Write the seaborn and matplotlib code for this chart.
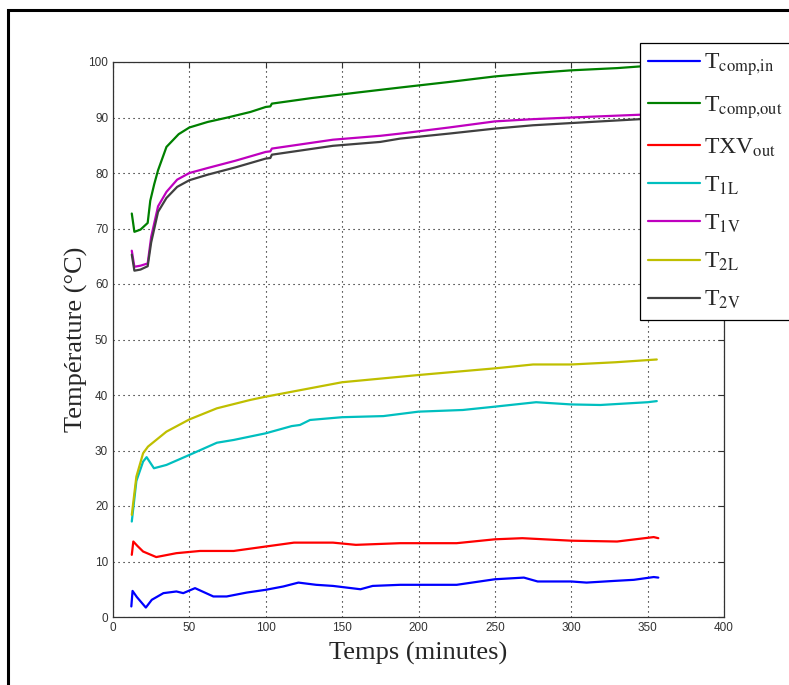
import pandas as pd
import matplotlib.pyplot as plt
import matplotlib.patches as mpatches
import seaborn as sns

# Values (time in minutes, temperature in °C)
t_comp_in_t = [12.0, 12.8, 15.6, 21.5, 25.4, 33, 41.5, 46, 53.7, 65.7, 74.4, 87.5, 100, 111.5,
               121.4, 133, 144, 162, 170, 188, 210, 225, 250, 269, 278, 300, 310, 328, 341, 354, 357]
t_comp_in_v = [1.9, 4.7, 3.6, 1.7, 3.1, 4.3, 4.6, 4.3, 5.2, 3.7, 3.7, 4.4, 4.9, 5.5,
               6.2, 5.8, 5.6, 5.0, 5.6, 5.8, 5.8, 5.8, 6.8, 7.1, 6.4, 6.4, 6.2, 6.5, 6.7, 7.2, 7.1]

t_comp_out_t = [12.3, 14, 18, 22.7, 24.4, 27, 29.5, 35, 43, 50, 62, 75, 90, 100, 103, 104,
                130, 160, 188, 220, 250, 275, 300, 330, 345, 357]
t_comp_out_v = [72.7, 69.4, 69.8, 71, 75, 78, 80.5, 84.7, 87, 88.2, 89.2, 90, 91, 91.9, 92.0, 92.5,
                93.5, 94.5, 95.4, 96.4, 97.4, 98.0, 98.5, 98.9, 99.2, 99.3]

txv_out_t = [12.3, 13.3, 16, 19.7, 28.3, 41.5, 57, 79, 100, 118.5, 144, 159, 188, 225, 250,
             268, 300, 330, 354, 357]
txv_out_v = [11.2, 13.6, 12.8, 11.8, 10.8, 11.5, 11.9, 11.9, 12.7, 13.4, 13.4, 13.0, 13.3, 13.3, 14.0,
             14.2, 13.75, 13.6, 14.4, 14.2]

t_1l_t = [12.3, 15.3, 19.7, 22, 26.8, 35, 50, 68, 79, 100, 117, 122.4, 129, 150, 177, 200,
          229, 250, 277, 300, 319, 350, 356]
t_1l_v = [17.2, 24.5, 28, 28.8, 26.8, 27.4, 29.2, 31.4, 31.9, 33.1, 34.4, 34.6, 35.5, 36.0, 36.2, 37.0,
          37.3, 37.9, 38.7, 38.3, 38.2, 38.7, 38.9]

t_1v_t = [12.3, 14, 18, 22.7, 25, 29.5, 35, 42, 50, 62, 80, 100, 103, 104, 144, 175, 188,
          220, 250, 275, 300, 345, 357]
t_1v_v = [66, 63.1, 63.3, 63.7, 68.5, 74, 76.6, 78.8, 80, 80.9, 82.2, 83.8, 83.9, 84.4, 86, 86.7, 87.1,
          88.2, 89.3, 89.7, 90, 90.5, 90.6]

t_2l_t = [12.3, 15.3, 19.7, 22.9, 35, 50, 68, 89.7, 100, 150, 200, 250, 275, 300, 329, 356]
t_2l_v = [18.4, 25.3, 29.5, 30.7, 33.4, 35.6, 37.6, 39.1, 39.7, 42.3, 43.6, 44.8, 45.5, 45.5, 45.9, 46.4]

t_2v_t = [12.3, 14, 18, 22.7, 25, 29.5, 35, 42, 50, 62, 80, 100, 103, 104, 144, 175, 188,
          220, 250, 275, 300, 345, 357]
t_2v_v = [65.3, 62.4, 62.6, 63.2, 67.5, 73, 75.5, 77.5, 78.7, 79.7, 81.0, 82.6, 82.7, 83.3, 84.9, 85.6, 86.2,
          87.1, 88.0, 88.6, 89.0, 89.7, 89.8]

labels = [r"T$_{\mathrm{comp{,}in}}$", r"T$_{\mathrm{comp{,}out}}$", r"TXV$_{\mathrm{out}}$",
          r"T$_{\mathrm{1L}}$", r"T$_{\mathrm{1V}}$", r"T$_{\mathrm{2L}}$", r"T$_{\mathrm{2V}}$"]
series = [(t_comp_in_t, t_comp_in_v), (t_comp_out_t, t_comp_out_v), (txv_out_t, txv_out_v),
          (t_1l_t, t_1l_v), (t_1v_t, t_1v_v), (t_2l_t, t_2l_v), (t_2v_t, t_2v_v)]
colors = ["#0000ff", "#008000", "#ff0000", "#00bfbf", "#bf00bf", "#bfbf00", "#404040"]

frames = []
for lab, (tt, vv) in zip(labels, series):
    frames.append(pd.DataFrame({"temps": tt, "temp": vv, "serie": lab}))
df = pd.concat(frames, ignore_index=True)

sns.set_style("white")
plt.rcParams["mathtext.fontset"] = "stix"
plt.rcParams["font.family"] = ["Liberation Serif", "DejaVu Serif"]

fig = plt.figure(figsize=(7.89, 6.85), dpi=100)
ax = fig.add_axes([113 / 789, 68 / 685, 611 / 789, 555 / 685])

sns.lineplot(data=df, x="temps", y="temp", hue="serie", palette=dict(zip(labels, colors)),
             hue_order=labels, estimator=None, sort=False, linewidth=1.6, ax=ax, zorder=3)

ax.set_xlim(0, 400)
ax.set_ylim(0, 100)
ax.set_xticks(range(0, 401, 50))
ax.set_yticks(range(0, 101, 10))
ax.grid(True, color="black", linestyle=(0, (1, 3.5)), linewidth=0.8)
ax.tick_params(direction="in", length=4.5, width=0.8, top=True, right=True, color="#333333",
               labelsize=8.5, labelcolor="#333333")
for lab in ax.get_xticklabels() + ax.get_yticklabels():
    lab.set_family("Liberation Sans")
for sp in ax.spines.values():
    sp.set_color("#333333")
    sp.set_linewidth(0.9)

ax.set_xlabel("Temps (minutes)", fontsize=19, labelpad=6)
ax.set_ylabel("Température (°C)", fontsize=19, labelpad=0)

leg = ax.legend(loc="upper left", bbox_to_anchor=(640 / 789, 642 / 685), bbox_transform=fig.transFigure,
                borderaxespad=0, fontsize=17, frameon=True, fancybox=False, handlelength=2.2,
                handletextpad=0.15, labelspacing=0.67, borderpad=0.35)
leg.get_frame().set_edgecolor("black")
leg.get_frame().set_linewidth(0.9)
leg.get_frame().set_alpha(1)
for ln in leg.get_lines():
    ln.set_linewidth(1.6)

# outer frame around the figure
fig.patches.append(mpatches.Rectangle((8 / 789, -0.05), 1.1, 0.05 + 675 / 685, transform=fig.transFigure,
                                      fill=False, edgecolor="black", linewidth=2.2))

fig.savefig("out.png", dpi=100)
